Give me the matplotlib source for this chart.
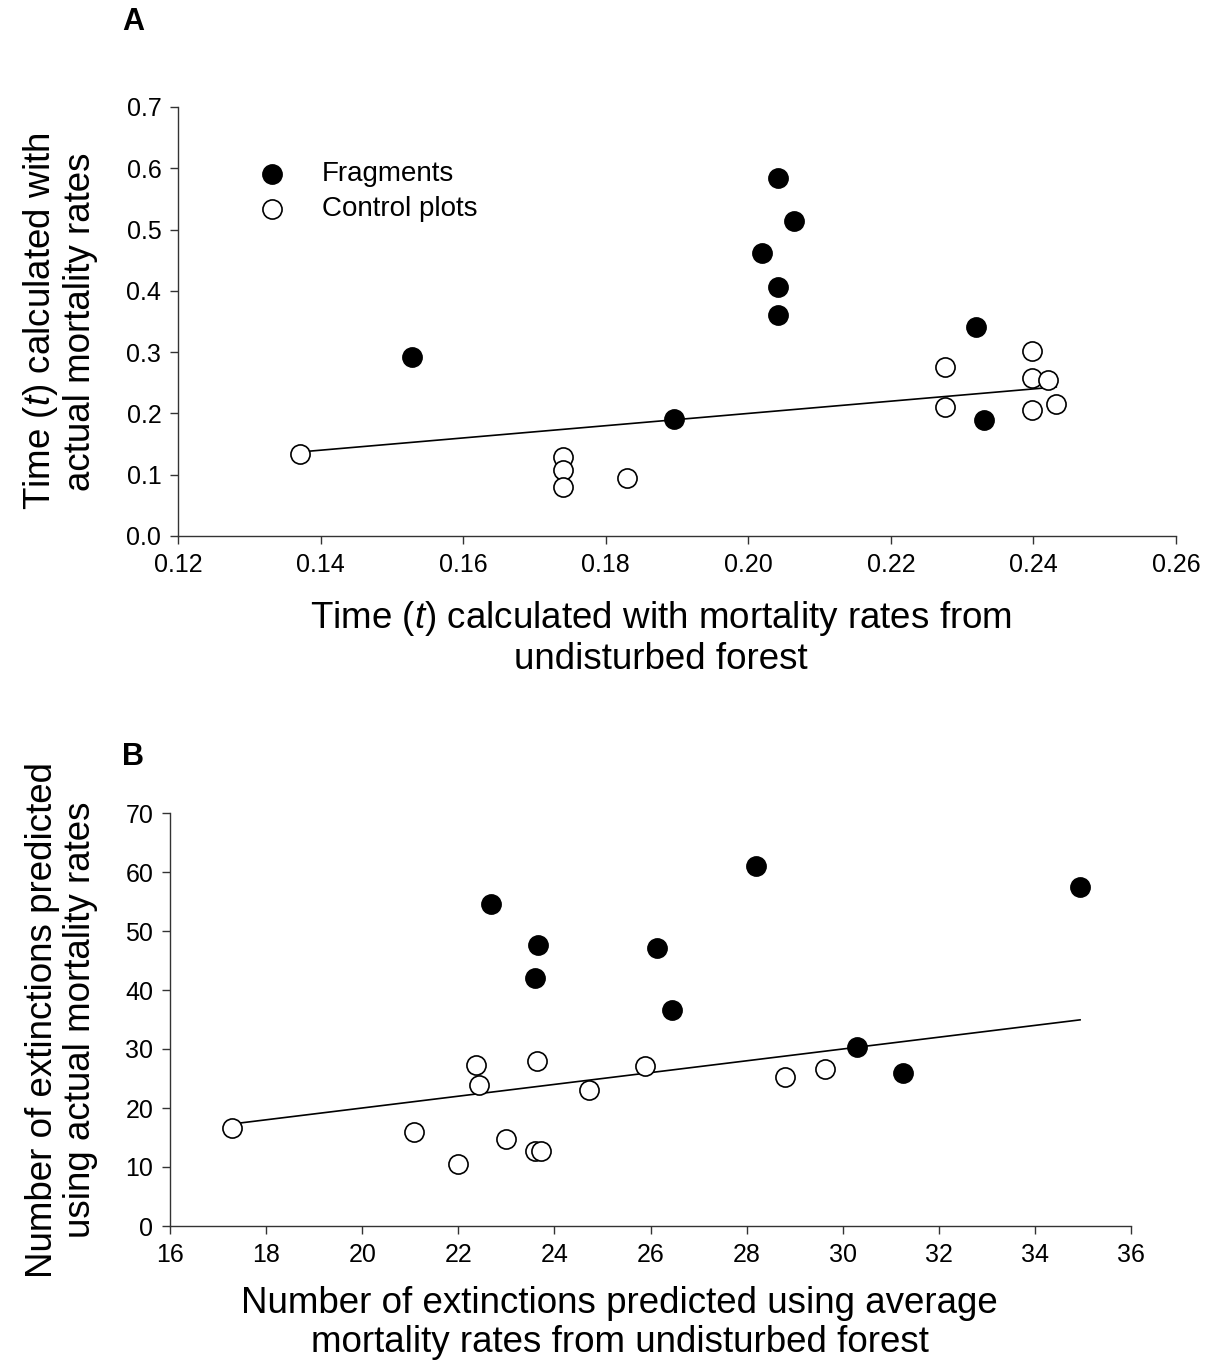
import matplotlib
matplotlib.use("Agg")
import matplotlib.pyplot as plt
import numpy as np

plt.rcParams['font.family'] = ['Liberation Sans', 'DejaVu Sans']
plt.rcParams['mathtext.fontset'] = 'custom'
plt.rcParams['mathtext.rm'] = 'Liberation Sans'
plt.rcParams['mathtext.it'] = 'Liberation Sans:italic'

# Panel A data
a_frag_x = [0.1528, 0.2042, 0.2064, 0.2019, 0.2042, 0.2042, 0.2319, 0.1896, 0.2331]
a_frag_y = [0.292, 0.584, 0.514, 0.462, 0.406, 0.361, 0.341, 0.191, 0.189]
a_ctrl_x = [0.1371, 0.1740, 0.1740, 0.1740, 0.1830, 0.2276, 0.2276, 0.2398, 0.2398, 0.2420, 0.2398, 0.2432]
a_ctrl_y = [0.134, 0.129, 0.108, 0.080, 0.095, 0.276, 0.210, 0.302, 0.258, 0.255, 0.206, 0.215]

# Panel B data
b_frag_x = [22.68, 23.66, 23.60, 26.14, 26.45, 28.20, 30.30, 31.26, 34.94]
b_frag_y = [54.6, 47.6, 42.0, 47.1, 36.6, 61.0, 30.3, 25.9, 57.5]
b_ctrl_x = [17.29, 21.08, 22.00, 22.37, 22.43, 22.99, 23.64, 23.60, 23.72, 24.72, 25.89, 28.80, 29.63]
b_ctrl_y = [16.6, 15.9, 10.5, 27.3, 23.9, 14.7, 28.0, 12.7, 12.7, 23.1, 27.1, 25.3, 26.6]

a_xticks = [0.12, 0.14, 0.16, 0.18, 0.20, 0.22, 0.24, 0.26]
a_yticks = [0.0, 0.1, 0.2, 0.3, 0.4, 0.5, 0.6, 0.7]
b_xticks = [16, 18, 20, 22, 24, 26, 28, 30, 32, 34, 36]
b_yticks = [0, 10, 20, 30, 40, 50, 60, 70]

fig = plt.figure(figsize=(12.07, 13.65), dpi=100)
axA = fig.add_axes([178/1207, 1-536/1365, 998/1207, 429/1365])
axB = fig.add_axes([170/1207, 1-1226/1365, 961/1207, 413/1365])

ms = 190
ew = 1.2
LAB = 26.5
TICK = 18
LS = 1.12

def style(ax):
    for s in ['top', 'right']:
        ax.spines[s].set_visible(False)
    for s in ['left', 'bottom']:
        ax.spines[s].set_linewidth(1.0)
        ax.spines[s].set_color('#333333')
    ax.tick_params(direction='out', length=6, width=1.0, color='#333333', labelsize=TICK, pad=6)

# Panel A
axA.scatter(a_frag_x, a_frag_y, s=ms, c='black', edgecolors='black', linewidths=ew, zorder=3, label='Fragments')
axA.scatter(a_ctrl_x, a_ctrl_y, s=ms, facecolors='white', edgecolors='black', linewidths=ew, zorder=3, label='Control plots')
allx = np.array(a_frag_x + a_ctrl_x)
lx = np.array([allx.min(), allx.max()])
axA.plot(lx, lx, color='black', lw=1.2, zorder=2)
axA.set_xlim(0.12, 0.26)
axA.set_ylim(0.0, 0.7)
axA.set_xticks(a_xticks)
axA.set_xticklabels([f"{t:.2f}" for t in a_xticks])
axA.set_yticks(a_yticks)
axA.set_yticklabels([f"{t:.1f}" for t in a_yticks])
style(axA)
axA.set_xlabel("Time ($\\mathit{t}$) calculated with mortality rates from\nundisturbed forest", fontsize=LAB, linespacing=LS)
axA.set_ylabel("Time ($\\mathit{t}$) calculated with\nactual mortality rates", fontsize=LAB, linespacing=LS)
axA.xaxis.set_label_coords(0.484, -0.148)
axA.xaxis.label.set_va('top')
axA.yaxis.set_label_coords(-0.08, 0.5)
axA.legend(loc='upper left', bbox_to_anchor=(0.08, 0.873), frameon=False, fontsize=20,
           handletextpad=1.3, handlelength=1.0, labelspacing=0.3, borderpad=0, borderaxespad=0,
           scatterpoints=1)
fig.text(133/1207, 1-22/1365, "A", fontsize=22, fontweight='bold', ha='center', va='center')

# Panel B
axB.scatter(b_frag_x, b_frag_y, s=ms, c='black', edgecolors='black', linewidths=ew, zorder=3)
axB.scatter(b_ctrl_x, b_ctrl_y, s=ms, facecolors='white', edgecolors='black', linewidths=ew, zorder=3)
allxb = np.array(b_frag_x + b_ctrl_x)
lxb = np.array([allxb.min(), allxb.max()])
axB.plot(lxb, lxb, color='black', lw=1.2, zorder=2)
axB.set_xlim(16, 36)
axB.set_ylim(0, 70)
axB.set_xticks(b_xticks)
axB.set_yticks(b_yticks)
style(axB)
axB.set_xlabel("Number of extinctions predicted using average\nmortality rates from undisturbed forest", fontsize=LAB, linespacing=LS)
axB.set_ylabel("Number of extinctions predicted\nusing actual mortality rates", fontsize=LAB, linespacing=LS)
axB.xaxis.set_label_coords(0.468, -0.146)
axB.xaxis.label.set_va('top')
axB.yaxis.set_label_coords(-0.075, 0.5)
fig.text(133/1207, 1-757/1365, "B", fontsize=22, fontweight='bold', ha='center', va='center')

fig.savefig("out.png", dpi=100)
